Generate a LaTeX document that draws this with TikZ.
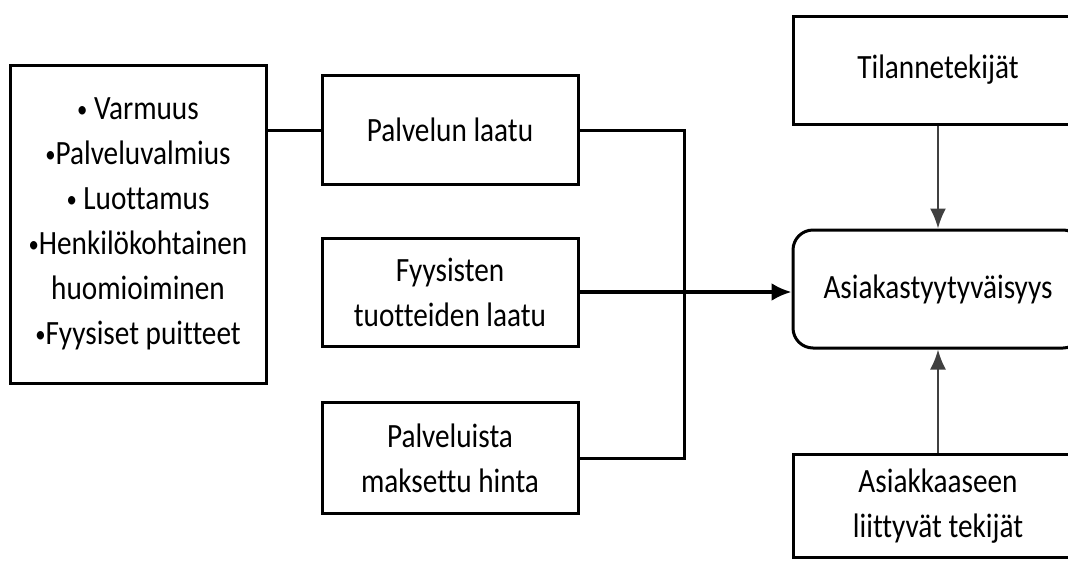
\documentclass[tikz,border=0pt]{standalone}
\usepackage{fontspec}
\setmainfont{Carlito}[FakeStretch=0.86, Ligatures=NoCommon]
\usepackage{tikz}
\usetikzlibrary{positioning}
\usetikzlibrary{arrows.meta}
\newcommand{\bul}{\raisebox{2pt}{\fontsize{24}{24}\selectfont •}}
\tikzset{
    boxnode/.style = {rectangle, draw=black, line width=3pt, align=center, fill=white, minimum width=256pt, inner sep=0pt},
    rightnode/.style = {rectangle, draw=black, line width=3pt, align=center, fill=white, minimum width=290pt, inner sep=0pt},
}
\begin{document}
\begin{tikzpicture}[
	x=1pt, y=-1pt,
	font=\fontsize{34}{45}\selectfont
]
\tikzset{
    linkn/.style = {-, line width=3pt, black},
    linka/.style = {-{Latex[length=20pt,width=18pt]}, line width=3.5pt, black},
    linkv/.style = {-{Latex[length=20pt,width=16pt]}, line width=2.2pt, black!75}
}
\clip (0,0) rectangle (1068,560);
\useasboundingbox (0,0) rectangle (1068,560);
\node[boxnode, minimum width=256pt, minimum height=318pt] at (138,224) (lst) {%
    \bul\ Varmuus\\ \bul Palveluvalmius\\ \bul\ Luottamus\\
    \bul Henkilökohtainen\\ huomioiminen\\ \bul Fyysiset puitteet};
\node[boxnode, minimum height=109pt] at (450,130) (pl) {Palvelun laatu};
\node[boxnode, minimum height=108pt] at (450,292) (fy) {Fyysisten\\ tuotteiden laatu};
\node[boxnode, minimum height=111pt] at (450,458) (ph) {Palveluista\\ maksettu hinta};
%
\node[rightnode, minimum height=108pt] at (938,70) (ti) {Tilannetekijät};
\node[rightnode, rounded corners=20pt, minimum height=118pt] at (938,289) (as) {Asiakastyytyväisyys};
\node[rightnode, minimum height=103pt] at (938,506) (ak) {Asiakkaaseen\\ liittyvät tekijät};
%
\coordinate (jn) at (684,292);
%
\draw[linkn] (lst.east |- pl.west) -- (pl.west);
\draw[linkn] (pl.east) -| (jn) |- (ph.east);
\draw[linka] (fy.east) -- (as.west |- fy.east);
%
\draw[linkv] (ti.south) -- (as.north);
\draw[linkv] (ak.north) -- (as.south);
\end{tikzpicture}
\end{document}
